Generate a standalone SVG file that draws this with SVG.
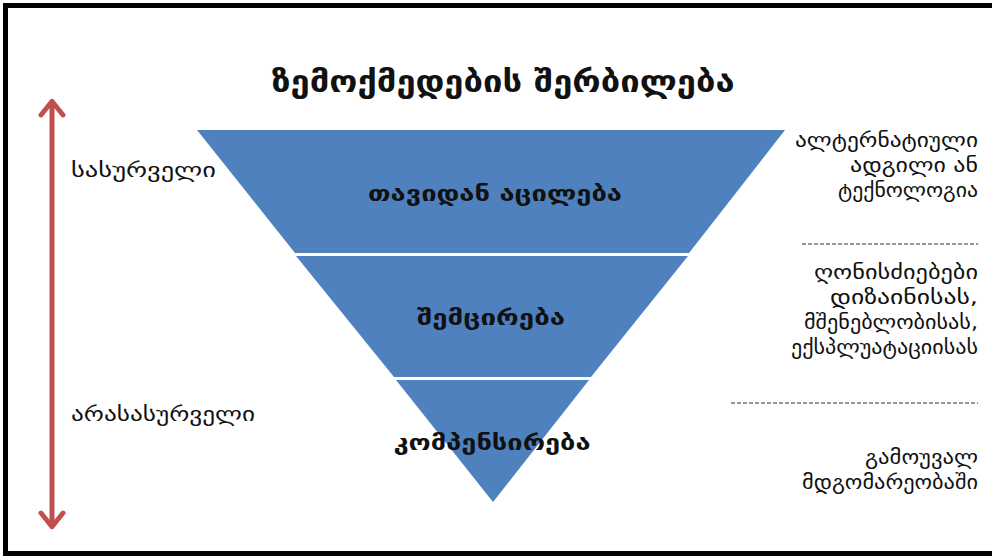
<svg xmlns="http://www.w3.org/2000/svg" width="992" height="556" viewBox="0 0 992 556">
<style>
.t{font-family:"DejaVu Sans","Noto Sans",sans-serif;fill:#111}
.lbl{font-size:20px}
.in{font-size:22px;font-weight:bold;text-anchor:middle}
.r{font-size:20px;text-anchor:end}
.band{fill:#5081bf}
.dash{stroke:#333;stroke-width:1.2;stroke-dasharray:4 2}
</style>
<defs>
<marker id="ah" viewBox="0 0 10 10" refX="5" refY="5" markerWidth="5.5" markerHeight="5.5" orient="auto-start-reverse" markerUnits="strokeWidth">
<path d="M1,1 L6,5 L1,9" fill="none" stroke="#c0504d" stroke-width="1.8" stroke-linecap="round" stroke-linejoin="round"/>
</marker>
</defs>
<rect x="0" y="0" width="992" height="556" fill="#fff"/>
<g id="frame" fill="#000">
<rect x="3" y="3" width="989" height="5"/>
<rect x="3" y="3" width="5" height="553"/>
<rect x="3" y="551" width="989" height="5"/>
</g>
<g id="title"><text class="t" x="503" y="92" font-size="31" font-weight="bold" text-anchor="middle" textLength="463" lengthAdjust="spacingAndGlyphs">ზემოქმედების შერბილება</text></g>
<g id="connectors">
<line x1="52" y1="104" x2="52" y2="524" stroke="#c0504d" stroke-width="5" marker-start="url(#ah)" marker-end="url(#ah)"/>
</g>
<g id="pyramid">
<g id="band1"><polygon class="band" points="197,130 785,130 689,253 295,253"/><text class="t in" x="495" y="201" textLength="254" lengthAdjust="spacingAndGlyphs">თავიდან აცილება</text></g>
<g id="band2"><polygon class="band" points="296,256 688,256 591,377 394,377"/><text class="t in" x="491" y="325" textLength="148" lengthAdjust="spacingAndGlyphs">შემცირება</text></g>
<g id="band3"><polygon class="band" points="396,380 589,380 493,502"/><text class="t in" x="492" y="450" textLength="197" lengthAdjust="spacingAndGlyphs">კომპენსირება</text></g>
</g>
<g id="left-labels">
<text class="t lbl" x="71" y="177" textLength="145" lengthAdjust="spacingAndGlyphs">სასურველი</text>
<text class="t lbl" x="71" y="421" textLength="184" lengthAdjust="spacingAndGlyphs">არასასურველი</text>
</g>
<g id="right-labels">
<text class="t r" x="978" y="147" textLength="183" lengthAdjust="spacingAndGlyphs">ალტერნატიული</text>
<text class="t r" x="978" y="172" textLength="128" lengthAdjust="spacingAndGlyphs">ადგილი ან</text>
<text class="t r" x="978" y="197" textLength="140" lengthAdjust="spacingAndGlyphs">ტექნოლოგია</text>
<line class="dash" x1="802" y1="244" x2="978" y2="244"/>
<text class="t r" x="978" y="279" textLength="164" lengthAdjust="spacingAndGlyphs">ღონისძიებები</text>
<text class="t r" x="978" y="304" textLength="148" lengthAdjust="spacingAndGlyphs">დიზაინისას,</text>
<text class="t r" x="978" y="329" textLength="174" lengthAdjust="spacingAndGlyphs">მშენებლობისას,</text>
<text class="t r" x="978" y="354" textLength="187" lengthAdjust="spacingAndGlyphs">ექსპლუატაციისას</text>
<line class="dash" x1="731" y1="403" x2="978" y2="403"/>
<text class="t r" x="978" y="464" textLength="113" lengthAdjust="spacingAndGlyphs">გამოუვალ</text>
<text class="t r" x="978" y="489" textLength="176" lengthAdjust="spacingAndGlyphs">მდგომარეობაში</text>
</g>
</svg>
